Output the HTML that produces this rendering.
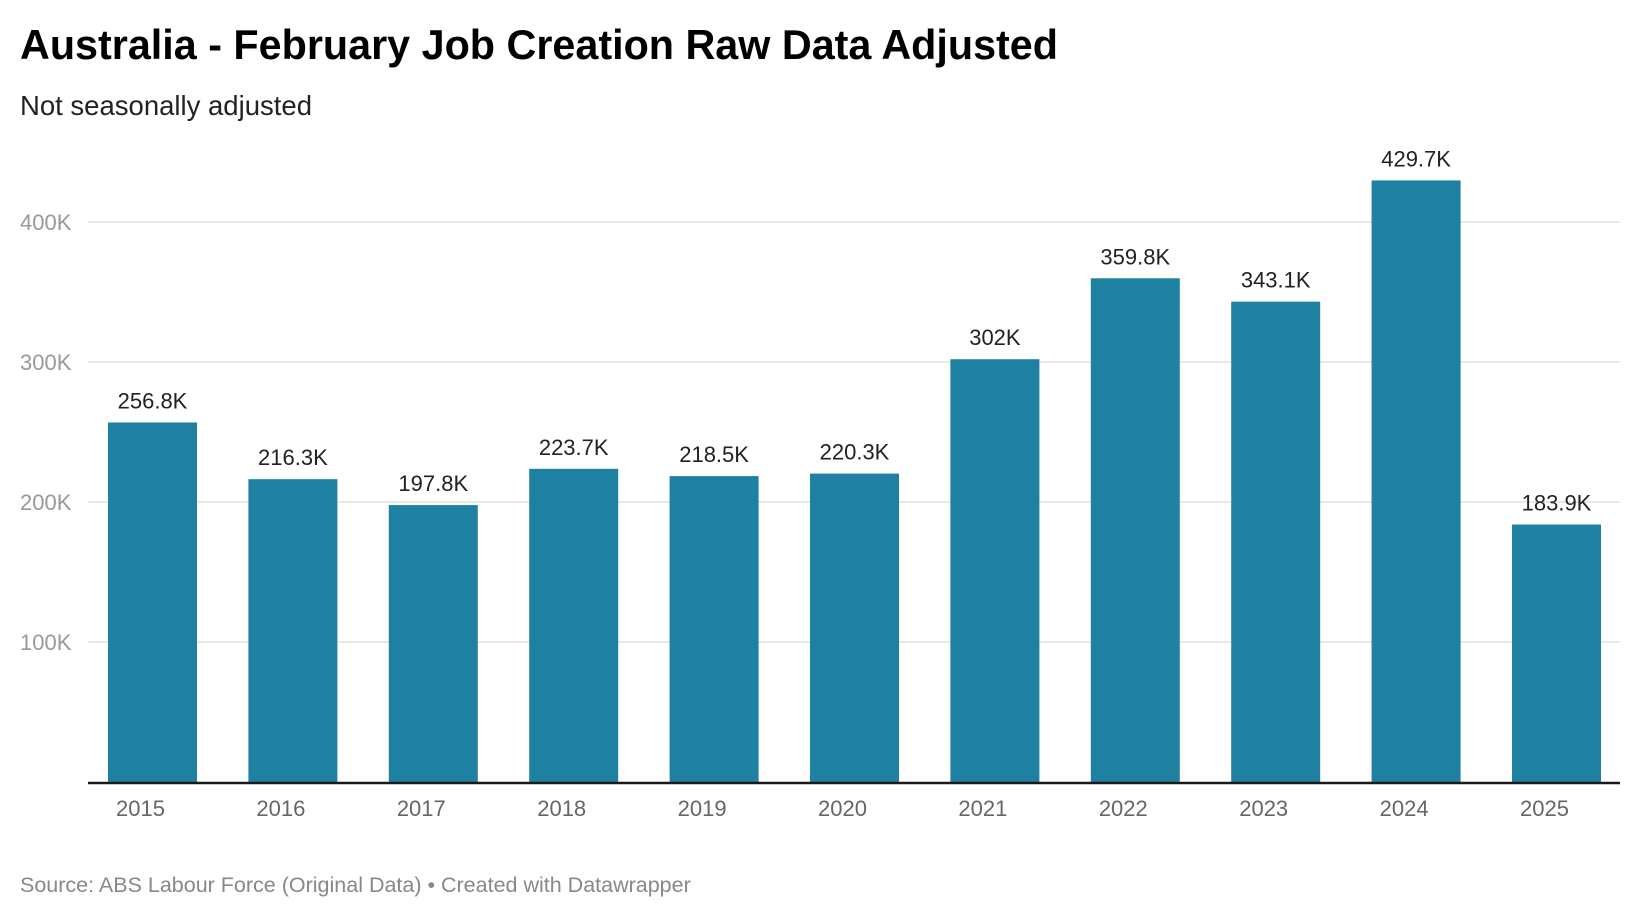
<!DOCTYPE html>
<html><head><meta charset="utf-8"><style>
body{margin:0;background:#fff;width:1640px;height:914px;overflow:hidden;font-family:"Liberation Sans",Roboto,sans-serif}
</style></head><body>
<svg width="1640" height="914" id="c">
<text x="20" y="59" font-size="41.3" font-weight="bold" fill="#000">Australia - February Job Creation Raw Data Adjusted</text>
<text x="20" y="115" font-size="27.5" fill="#222">Not seasonally adjusted</text>
<text x="20" y="892" font-size="21.5" fill="#888">Source: ABS Labour Force (Original Data) • Created with Datawrapper</text>
</svg>
<script>
const categories=["2015","2016","2017","2018","2019","2020","2021","2022","2023","2024","2025"];
const values=[256.8,216.3,197.8,223.7,218.5,220.3,302,359.8,343.1,429.7,183.9];
const valueLabels=["256.8K","216.3K","197.8K","223.7K","218.5K","220.3K","302K","359.8K","343.1K","429.7K","183.9K"];
const yTicks=[100,200,300,400];
const yTickLabels=["100K","200K","300K","400K"];
const svg=document.getElementById('c');const NS='http://www.w3.org/2000/svg';
const y=v=>782-v*1.4;
const x=i=>108+i*140.4;
const bw=89;
function mk(t,a,txt){const e=document.createElementNS(NS,t);for(const k in a)e.setAttribute(k,a[k]);if(txt!=null)e.textContent=txt;svg.appendChild(e);return e;}
yTicks.forEach((t,i)=>{
 const l=mk('line',{x1:88,x2:1620,y1:y(t),y2:y(t),stroke:'#e0e0e0','stroke-width':1.5});
 
 
 const tx=mk('text',{x:20,y:y(t)+8,'font-size':22,fill:'#999'},yTickLabels[i]);
 
 
});
categories.forEach((c,i)=>{
 const r=mk('rect',{x:x(i),y:y(values[i]),width:bw,height:782-y(values[i]),fill:'#1e81a2'});
 
 
 const v=mk('text',{x:x(i)+bw/2,y:y(values[i])-14,'font-size':22,fill:'#222','text-anchor':'middle'},valueLabels[i]);
 
 
 const t=mk('text',{x:x(i)+bw/2-12,y:816,'font-size':22,fill:'#666','text-anchor':'middle'},c);
 
 
});
const ax=mk('line',{x1:88,x2:1620,y1:783,y2:783,stroke:'#1a1a1a','stroke-width':2.5});


</script>
</body></html>
